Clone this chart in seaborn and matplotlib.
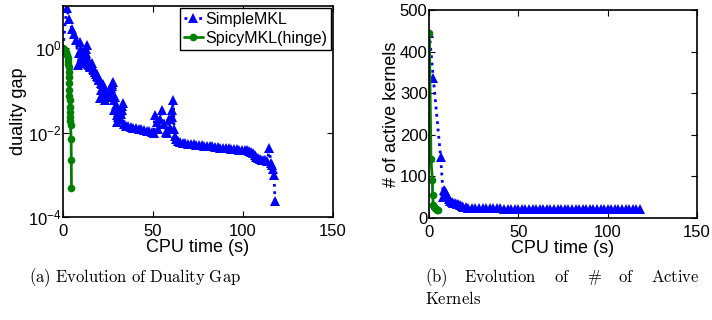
import seaborn as sns
import matplotlib.pyplot as plt
from matplotlib.ticker import FixedLocator, NullLocator, LogFormatterSciNotation

# (a) duality gap vs CPU time
simple_gap_t = [0.0, 2.0, 3.5, 5.0, 6.3, 7.5, 8.5, 8.9, 9.4, 9.8, 10.0, 10.4, 10.7, 11.0,
                11.3, 11.7, 12.0, 12.3, 12.6, 13.0, 13.5, 13.8, 14.0, 14.4, 14.8, 15.1,
                15.5, 16.0, 16.3, 16.6, 17.0, 17.3, 17.7, 18.0, 18.4, 18.8, 19.1, 19.5,
                19.8, 20.2, 20.6, 20.9, 21.3, 21.6, 22.0, 22.4, 22.8, 23.3, 23.7, 24.0,
                24.5, 25.0, 25.5, 26.0, 26.5, 27.0, 27.5, 28.0, 28.3, 28.5, 28.9, 29.3,
                29.8, 30.2, 30.5, 30.8, 31.2, 31.7, 32.2, 32.6, 33.0, 33.5, 34.0,
                34.8, 36.0, 37.5, 39.0, 40.5, 42.0, 43.5, 45.0, 46.5, 48.0, 49.5, 50.5,
                51.0, 52.0, 53.0, 54.0, 55.0, 56.0, 57.0, 58.0, 59.0, 59.7, 60.4, 60.8,
                61.3, 61.7, 62.2, 63.0, 64.0, 65.0, 66.5, 68.0, 69.5, 71.0, 72.5, 74.0,
                75.5, 77.0, 78.5, 80.0, 81.5, 83.0, 84.5, 86.0, 87.5, 89.0, 90.5, 92.0,
                93.5, 95.0, 96.5, 98.0, 99.5, 101.0, 102.5, 103.5, 104.5, 105.5, 106.5,
                107.5, 108.5, 109.5, 110.5, 111.5, 112.5, 113.5, 114.6, 115.5, 116.2,
                116.8, 117.2, 117.8]
simple_gap = [1.0, 9.0, 4.8, 2.8, 2.2, 1.6, 0.40, 0.75, 1.38, 0.95, 0.81, 0.62, 0.55, 0.60,
              0.50, 0.47, 0.45, 0.60, 0.78, 0.95, 1.16, 0.55, 0.42, 0.40, 0.38, 0.36,
              0.35, 0.45, 0.36, 0.32, 0.31, 0.30, 0.28, 0.27, 0.25, 0.24, 0.22, 0.21,
              0.19, 0.18, 0.065, 0.10, 0.15, 0.145, 0.14, 0.11, 0.08, 0.059, 0.07, 0.09,
              0.08, 0.075, 0.085, 0.10, 0.115, 0.13, 0.14, 0.16, 0.06, 0.034, 0.07, 0.045,
              0.026, 0.018, 0.024, 0.030, 0.025, 0.021, 0.028, 0.034, 0.042, 0.049, 0.016,
              0.0146, 0.0141, 0.0136, 0.0131, 0.0127, 0.0123, 0.0119, 0.0115, 0.0111,
              0.0107, 0.0103, 0.0100, 0.026, 0.018, 0.012, 0.021, 0.034, 0.016, 0.0105,
              0.0098, 0.021, 0.013, 0.023, 0.034, 0.06, 0.012, 0.0085, 0.0072, 0.0064,
              0.0060, 0.0058, 0.0056, 0.0055, 0.0054, 0.0053, 0.0052, 0.0051, 0.0050,
              0.0049, 0.0048, 0.0047, 0.0047, 0.0046, 0.0045, 0.0044, 0.0043, 0.0043,
              0.0042, 0.0041, 0.0041, 0.0040, 0.0039, 0.0039, 0.0038, 0.0038, 0.0037,
              0.0035, 0.0032, 0.0029, 0.0027, 0.0025, 0.0024, 0.0023, 0.0022, 0.0022,
              0.0021, 0.0042, 0.0019, 0.0017, 0.0014, 0.00098, 0.00024]
spicy_gap_t = [0.0, 1.0, 1.8, 2.3, 2.7, 2.9, 3.0, 3.1, 3.2, 3.3, 3.4, 3.5, 3.6, 3.7, 3.8,
               3.9, 4.0, 4.1, 4.2, 4.5, 4.6, 4.7]
spicy_gap = [1.0, 0.92, 0.8, 0.7, 0.6, 0.5, 0.42, 0.35, 0.28, 0.21, 0.15, 0.10, 0.075,
             0.059, 0.04, 0.03, 0.023, 0.019, 0.015, 0.0072, 0.0023, 0.00048]

# (b) number of active kernels vs CPU time
simple_k_t = [0.2, 2.4, 6.5, 8.0, 8.4, 9.0, 9.5, 10.0, 10.5, 11.0, 12.0, 12.7, 13.5, 14.5,
              15.5, 16.5, 17.5, 18.5, 19.2, 20.5, 22, 24, 26, 28, 30, 32, 34, 36, 38, 40,
              42, 44, 46, 48, 50, 52, 54, 56, 58, 60, 62, 64, 66, 68, 70, 72, 74, 76, 78,
              80, 82, 84, 86, 88, 90, 92, 94, 96, 98, 100, 102, 104, 106, 108, 110, 112,
              114, 116, 118]
simple_k = [444, 336, 147, 51, 67, 65, 60, 55, 50, 45, 40, 39, 36, 35, 34, 33, 32, 29, 27,
            26, 25, 25, 24, 24, 23, 23, 23, 23, 23, 23, 22, 22, 22, 22, 22, 22, 22, 22, 22,
            22, 22, 22, 22, 22, 22, 22, 22, 22, 21, 21, 21, 21, 21, 21, 21, 21, 21, 21, 21,
            21, 21, 21, 21, 21, 21, 21, 21, 21, 21]
spicy_k_t = [0.2, 1.1, 1.9, 2.0, 2.4, 2.8, 3.4, 4.0, 4.6, 5.2]
spicy_k = [444, 141, 91, 55, 31, 26, 23, 21, 20, 19]

caption_a = r'(a)\ Evolution\ of\ Duality\ Gap'
caption_b = ['(b)', 'Evolution', 'of', r'\#', 'of', 'Active']
caption_b2 = 'Kernels'

sns.set_theme(style='white')
plt.rcParams['font.family'] = ['Liberation Sans', 'DejaVu Sans']
plt.rcParams['mathtext.fontset'] = 'custom'
plt.rcParams['mathtext.rm'] = 'Liberation Sans'
plt.rcParams['mathtext.it'] = 'Liberation Sans:italic'
plt.rcParams['mathtext.bf'] = 'Liberation Sans:bold'
plt.rcParams['axes.edgecolor'] = 'black'
plt.rcParams['text.color'] = 'black'
plt.rcParams['axes.labelcolor'] = 'black'

W, H = 712, 320
fig = plt.figure(figsize=(W / 100, H / 100), dpi=100)
ax1 = fig.add_axes([63 / W, 1 - 217 / H, 270 / W, 211 / H])
ax2 = fig.add_axes([429 / W, 1 - 218 / H, 268 / W, 208 / H])

blue = dict(color='blue', linestyle=':', marker='^', markersize=7.5,
            markeredgewidth=0, linewidth=2)
green = dict(color='green', linestyle='-', marker='o', markersize=5.5,
             markeredgewidth=0, linewidth=2)

sns.lineplot(x=simple_gap_t, y=simple_gap, ax=ax1, estimator=None, sort=False,
             label='SimpleMKL', **blue)
sns.lineplot(x=spicy_gap_t, y=spicy_gap, ax=ax1, estimator=None, sort=False,
             label='SpicyMKL(hinge)', **green)
sns.lineplot(x=simple_k_t, y=simple_k, ax=ax2, estimator=None, sort=False, **blue)
sns.lineplot(x=spicy_k_t, y=spicy_k, ax=ax2, estimator=None, sort=False, **green)

ax1.set_yscale('log')
ax1.set_ylim(1e-4, 10)
ax1.yaxis.set_major_locator(FixedLocator([1e-4, 1e-2, 1]))
ax1.yaxis.set_major_formatter(LogFormatterSciNotation())
ax1.yaxis.set_minor_locator(NullLocator())
ax1.set_ylabel('duality gap', fontsize=13, labelpad=1)

ax2.set_ylim(0, 500)
ax2.set_yticks([0, 100, 200, 300, 400, 500])
ax2.set_ylabel('# of active kernels', fontsize=13, labelpad=0)

for ax in (ax1, ax2):
    ax.set_xlim(0, 150)
    ax.set_xticks([0, 50, 100, 150])
    ax.set_xlabel('CPU time (s)', fontsize=13, labelpad=0)
    ax.tick_params(direction='in', top=True, right=True, bottom=True, left=True,
                   length=4, width=0.8, labelsize=12, colors='black')
    ax.tick_params(axis='y', pad=1)
    ax.tick_params(axis='x', pad=5)
    for s in ax.spines.values():
        s.set_linewidth(1.2)
        s.set_color('black')

leg = ax1.legend(loc='upper right', fontsize=11.5, frameon=True, fancybox=False,
                 edgecolor='black', framealpha=1, borderaxespad=0.12, borderpad=0.25,
                 labelspacing=0.25, handlelength=1.2, handletextpad=0.15)
leg.get_frame().set_linewidth(1.0)
if ax2.get_legend() is not None:
    ax2.get_legend().remove()

# captions
fig.text(135 / W, 1 - 282 / H, r'$\mathrm{%s}$' % caption_a, math_fontfamily='cm',
         fontsize=12, ha='center', va='baseline')
words = [fig.text(0, 1 - 282 / H, r'$\mathrm{%s}$' % w, math_fontfamily='cm',
                  fontsize=12, ha='left', va='baseline') for w in caption_b]
fig.text(425 / W, 1 - 304 / H, r'$\mathrm{%s}$' % caption_b2, math_fontfamily='cm',
         fontsize=12, ha='left', va='baseline')

# justify the first line of caption (b) between x=425 and x=700 px
fig.canvas.draw()
renderer = fig.canvas.get_renderer()
widths = [t.get_window_extent(renderer).width for t in words]
gap = (700 - 425 - sum(widths)) / (len(words) - 1)
xpx = 425
for t, w in zip(words, widths):
    t.set_x(xpx / W)
    xpx += w + gap

fig.savefig('out.png', dpi=100)
